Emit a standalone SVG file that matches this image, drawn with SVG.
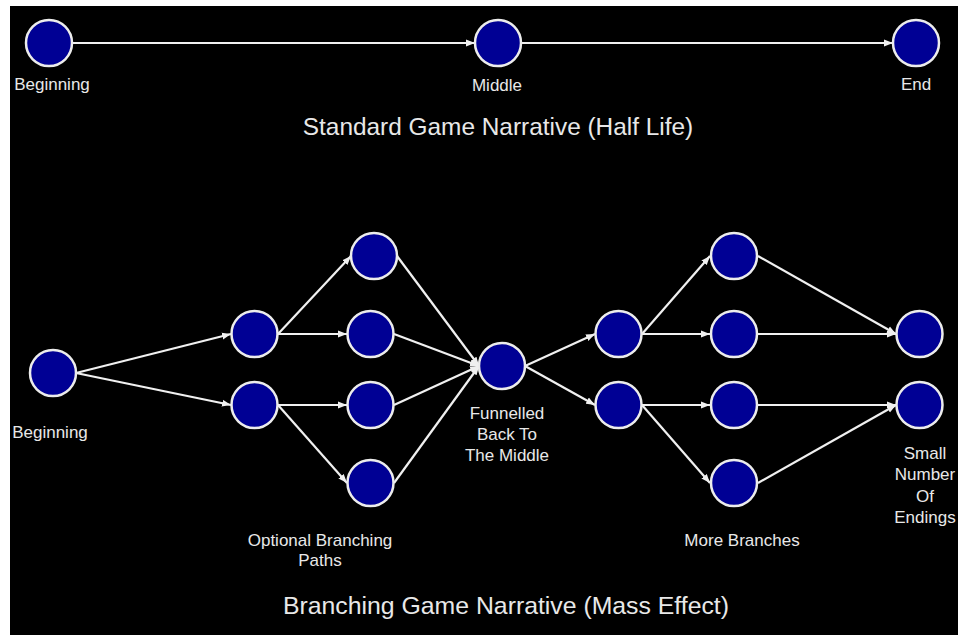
<svg xmlns="http://www.w3.org/2000/svg" width="958" height="635" viewBox="0 0 958 635">
<defs>
<marker id="arr" markerUnits="userSpaceOnUse" markerWidth="10" markerHeight="8" refX="9" refY="4" orient="auto">
<path d="M0,0.5 L9,4 L0,7.5 Z" fill="#f0f0f0"/>
</marker>
<style>
.n{fill:#000094;stroke:#ececec;stroke-width:2.5}
.e{stroke:#f0f0f0;stroke-width:2.2;fill:none;marker-end:url(#arr)}
.t{font-family:"Liberation Sans",Arial,sans-serif;font-size:17px;fill:#e8e8e8;text-anchor:middle}
.h{font-family:"Liberation Sans",Arial,sans-serif;font-size:24.4px;fill:#e8e8e8;text-anchor:middle}
</style>
</defs>
<rect width="958" height="635" fill="#ffffff"/>
<rect x="10" y="6" width="948" height="629" fill="#000000"/>
<g id="connectors">
<line class="e" x1="72" y1="43" x2="475" y2="43"/>
<line class="e" x1="522" y1="43" x2="893" y2="43"/>
<line class="e" x1="76" y1="373" x2="231" y2="334"/>
<line class="e" x1="76" y1="373" x2="231" y2="405"/>
<line class="e" x1="278" y1="334" x2="351" y2="256"/>
<line class="e" x1="278" y1="334" x2="347" y2="334"/>
<line class="e" x1="278" y1="405" x2="347" y2="405"/>
<line class="e" x1="278" y1="405" x2="347" y2="483"/>
<line class="e" x1="397" y1="256" x2="479" y2="366"/>
<line class="e" x1="394" y1="334" x2="479" y2="366"/>
<line class="e" x1="394" y1="405" x2="479" y2="366"/>
<line class="e" x1="394" y1="483" x2="479" y2="366"/>
<line class="e" x1="525" y1="366" x2="595" y2="334"/>
<line class="e" x1="525" y1="366" x2="595" y2="405"/>
<line class="e" x1="642" y1="334" x2="710" y2="256"/>
<line class="e" x1="642" y1="334" x2="710" y2="334"/>
<line class="e" x1="642" y1="405" x2="710" y2="405"/>
<line class="e" x1="642" y1="405" x2="710" y2="483"/>
<line class="e" x1="758" y1="256" x2="896" y2="334"/>
<line class="e" x1="758" y1="334" x2="896" y2="334"/>
<line class="e" x1="758" y1="405" x2="896" y2="405"/>
<line class="e" x1="758" y1="483" x2="896" y2="405"/>
</g>
<g id="top-beginning"><circle class="n" cx="49" cy="43" r="23"/><text class="t" x="52" y="90">Beginning</text></g>
<g id="top-middle"><circle class="n" cx="498" cy="43" r="23"/><text class="t" x="497" y="91">Middle</text></g>
<g id="top-end"><circle class="n" cx="916" cy="43" r="23"/><text class="t" x="916" y="90">End</text></g>
<text class="h" x="498" y="135">Standard Game Narrative (Half Life)</text>
<g id="b-beginning"><circle class="n" cx="53" cy="373" r="23"/><text class="t" x="50" y="438">Beginning</text></g>
<g id="a1"><circle class="n" cx="254.5" cy="334" r="23"/></g>
<g id="a2"><circle class="n" cx="254.5" cy="405" r="23"/></g>
<g id="b1"><circle class="n" cx="374" cy="256" r="23"/></g>
<g id="b2"><circle class="n" cx="370.5" cy="334" r="23"/></g>
<g id="b3"><circle class="n" cx="370.5" cy="405" r="23"/></g>
<g id="b4"><circle class="n" cx="370.5" cy="483" r="23"/></g>
<g id="funnel"><circle class="n" cx="502" cy="366" r="23"/>
<text class="t" x="507" y="419">Funnelled</text><text class="t" x="507" y="440">Back To</text><text class="t" x="507" y="461">The Middle</text></g>
<g id="c1"><circle class="n" cx="618.5" cy="334" r="23"/></g>
<g id="c2"><circle class="n" cx="618.5" cy="405" r="23"/></g>
<g id="d1"><circle class="n" cx="734" cy="256" r="23"/></g>
<g id="d2"><circle class="n" cx="734" cy="334" r="23"/></g>
<g id="d3"><circle class="n" cx="734" cy="405" r="23"/></g>
<g id="d4"><circle class="n" cx="734" cy="483" r="23"/></g>
<g id="e1"><circle class="n" cx="919.5" cy="334" r="23"/></g>
<g id="e2"><circle class="n" cx="919.5" cy="405" r="23"/>
<text class="t" x="925" y="459">Small</text><text class="t" x="925" y="480">Number</text><text class="t" x="925" y="502">Of</text><text class="t" x="925" y="523">Endings</text></g>
<g id="label-optional"><text class="t" x="320" y="546">Optional Branching</text><text class="t" x="320" y="566">Paths</text></g>
<g id="label-more"><text class="t" x="742" y="546">More Branches</text></g>
<text class="h" x="506" y="614" style="font-size:24.8px">Branching Game Narrative (Mass Effect)</text>
</svg>
